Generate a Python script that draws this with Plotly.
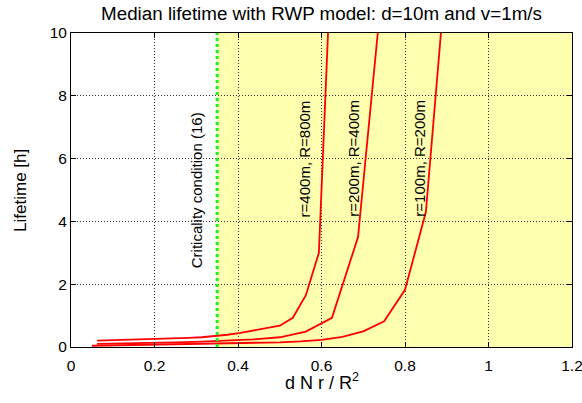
import plotly.graph_objects as go

# Data
x1 = [0.0625, 0.09375, 0.125, 0.15625, 0.1875, 0.21875, 0.25, 0.28125, 0.3125, 0.34375,
      0.375, 0.40625, 0.4375, 0.46875, 0.5, 0.53125, 0.5625, 0.59375, 0.625]
y1 = [0.20, 0.21, 0.22, 0.23, 0.24, 0.25, 0.27, 0.29, 0.31, 0.34,
      0.39, 0.45, 0.53, 0.60, 0.68, 0.93, 1.65, 3.0, 13.0]

x2 = [0.0625, 0.125, 0.1875, 0.25, 0.3125, 0.375, 0.4375, 0.5, 0.5625, 0.625, 0.6875, 0.75]
y2 = [0.10, 0.11, 0.13, 0.15, 0.17, 0.20, 0.24, 0.31, 0.49, 0.93, 3.5, 12.1]

x3 = [0.05, 0.1, 0.15, 0.2, 0.25, 0.3, 0.35, 0.4, 0.45, 0.5, 0.55, 0.6, 0.65, 0.7, 0.75, 0.8, 0.85, 0.9]
y3 = [0.04, 0.05, 0.06, 0.07, 0.08, 0.09, 0.10, 0.11, 0.13, 0.15, 0.18, 0.23, 0.32, 0.50, 0.82, 1.82, 4.3, 12.2]

series_names = ["r=400m, R=800m", "r=200m, R=400m", "r=100m, R=200m"]
label_x = [0.56, 0.676, 0.836]
label_y = [6.0, 6.0, 6.0]

critical_x = 0.35
critical_label = "Criticality condition (16)"
critical_label_x = 0.30
critical_label_y = 5.0
x_max = 1.2
y_max = 10
x_ticks = [0, 0.2, 0.4, 0.6, 0.8, 1.0, 1.2]
x_tick_text = ["0", "0.2", "0.4", "0.6", "0.8", "1", "1.2"]
y_ticks = [0, 2, 4, 6, 8, 10]

title = "Median lifetime with RWP model: d=10m and v=1m/s"
x_title = "d N r / R<sup>2</sup>"
y_title = "Lifetime [h]"

FONT = "Liberation Sans, Arial, sans-serif"

fig = go.Figure()

for xs, ys, name in zip([x1, x2, x3], [y1, y2, y3], series_names):
    fig.add_trace(go.Scatter(x=xs, y=ys, mode="lines", name=name,
                             line=dict(color="#ff0000", width=1.8), showlegend=False))

# shaded region beyond criticality
fig.add_shape(type="rect", xref="x", yref="y", x0=critical_x, x1=x_max, y0=0, y1=y_max,
              fillcolor="#ffffb0", line=dict(width=0), layer="below")
# criticality line
fig.add_shape(type="line", xref="x", yref="y", x0=critical_x, x1=critical_x, y0=0, y1=y_max,
              line=dict(color="#22ee22", width=3, dash="dot"), layer="above")

for name, lx, ly in zip(series_names, label_x, label_y):
    fig.add_annotation(x=lx, y=ly, text=name, textangle=-90, showarrow=False,
                       font=dict(family=FONT, size=15, color="black"))
fig.add_annotation(x=critical_label_x, y=critical_label_y, text=critical_label, textangle=-90,
                   showarrow=False, font=dict(family=FONT, size=15, color="black"))

# axis titles
fig.add_annotation(xref="paper", yref="paper", x=0.5, y=-0.111, text=x_title, showarrow=False,
                   xanchor="center", yanchor="middle", font=dict(family=FONT, size=18, color="black"))
fig.add_annotation(xref="paper", yref="paper", x=-0.102, y=0.5, text=y_title, showarrow=False,
                   textangle=-90, xanchor="center", yanchor="middle",
                   font=dict(family=FONT, size=17, color="black"))

fig.update_layout(
    width=582, height=403,
    margin=dict(l=71, r=10, t=33, b=56),
    paper_bgcolor="white", plot_bgcolor="white",
    font=dict(family=FONT, size=15.5, color="black"),
    title=dict(text=title, x=0.5, xref="paper", y=1 - 13 / 403, yref="container", yanchor="middle",
               font=dict(family=FONT, size=18.8, color="black")),
)
fig.update_xaxes(range=[0, x_max], tickvals=x_ticks, ticktext=x_tick_text, showgrid=True,
                 automargin=False, ticklabeloverflow="allow", ticklabelstandoff=4,
                 gridcolor="#333333", griddash="1px,2px", gridwidth=1,
                 showline=True, linecolor="black", linewidth=1, mirror="allticks",
                 ticks="inside", ticklen=5, tickcolor="black", zeroline=False)
fig.update_yaxes(range=[0, y_max], tickvals=y_ticks, showgrid=True, automargin=False,
                 ticklabeloverflow="allow",
                 gridcolor="#333333", griddash="1px,2px", gridwidth=1,
                 showline=True, linecolor="black", linewidth=1, mirror="allticks",
                 ticks="inside", ticklen=5, tickcolor="black", zeroline=False)

# remove the browser's default 8px body margin so the figure fills the window
fig.write_html("out.html", config={"displayModeBar": False},
               post_script="document.body.style.margin='0px';")
